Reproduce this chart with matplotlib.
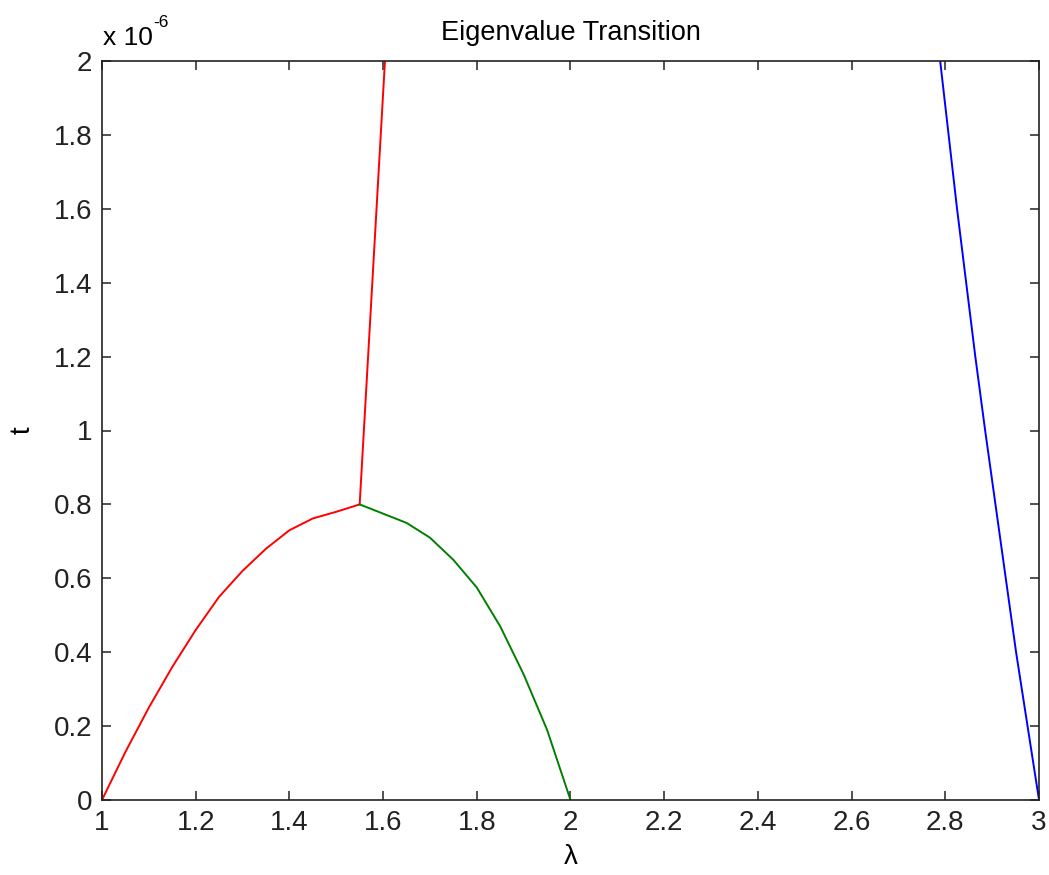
import matplotlib.pyplot as plt
from matplotlib.ticker import FuncFormatter

# t values are in units of 1e-6
red_low_x = [1.0, 1.05, 1.1, 1.15, 1.2, 1.25, 1.3, 1.35, 1.4, 1.45, 1.5, 1.55]
red_low_t = [0.0, 0.13, 0.25, 0.36, 0.46, 0.55, 0.62, 0.68, 0.73, 0.762, 0.78, 0.80]

red_up_x = [1.55, 1.604]
red_up_t = [0.80, 2.0]

green_x = [1.55, 1.6, 1.65, 1.7, 1.75, 1.8, 1.85, 1.9, 1.95, 2.0]
green_t = [0.80, 0.775, 0.75, 0.71, 0.65, 0.575, 0.47, 0.34, 0.19, 0.0]

blue_x = [2.789, 2.825, 2.864, 2.885, 2.907, 2.951, 3.0]
blue_t = [2.0, 1.6, 1.2, 1.0, 0.8, 0.4, 0.0]

plt.rcParams['font.family'] = ['Liberation Sans', 'DejaVu Sans']

fig = plt.figure(figsize=(10.49, 8.75), dpi=100)
ax = fig.add_axes([0.0972, 0.0857, 0.8933, 0.8446])

lw = 1.4
ax.plot(red_low_x, red_low_t, color='#ff0000', linewidth=lw)
ax.plot(red_up_x, red_up_t, color='#ff0000', linewidth=lw)
ax.plot(green_x, green_t, color='#008000', linewidth=lw)
ax.plot(blue_x, blue_t, color='#0000ff', linewidth=lw)

ax.set_xlim(1, 3)
ax.set_ylim(0, 2)
ax.set_xticks([1 + 0.2 * i for i in range(11)])
ax.set_yticks([0.2 * i for i in range(11)])
fmt = FuncFormatter(lambda v, p: '%g' % round(v, 1))
ax.xaxis.set_major_formatter(fmt)
ax.yaxis.set_major_formatter(fmt)
ax.tick_params(direction='in', length=6.5, width=1.1, labelsize=20,
               top=True, right=True, pad=7, colors='#222222')
for s in ax.spines.values():
    s.set_linewidth(1.2)
    s.set_color('#222222')

ax.set_title('Eigenvalue Transition', fontsize=19.5, pad=15)
ax.set_xlabel('λ', fontsize=20, labelpad=6)
ax.set_ylabel('t', fontsize=20, labelpad=13)

# MATLAB-style exponent label above the y axis
ax.annotate('x 10', xy=(0, 1), xycoords='axes fraction', xytext=(1, 11.5),
            textcoords='offset points', fontsize=19, va='baseline')
ax.annotate('-6', xy=(0, 1), xycoords='axes fraction', xytext=(37, 24.5),
            textcoords='offset points', fontsize=12.5, va='baseline')

fig.savefig('out.png', dpi=100)
